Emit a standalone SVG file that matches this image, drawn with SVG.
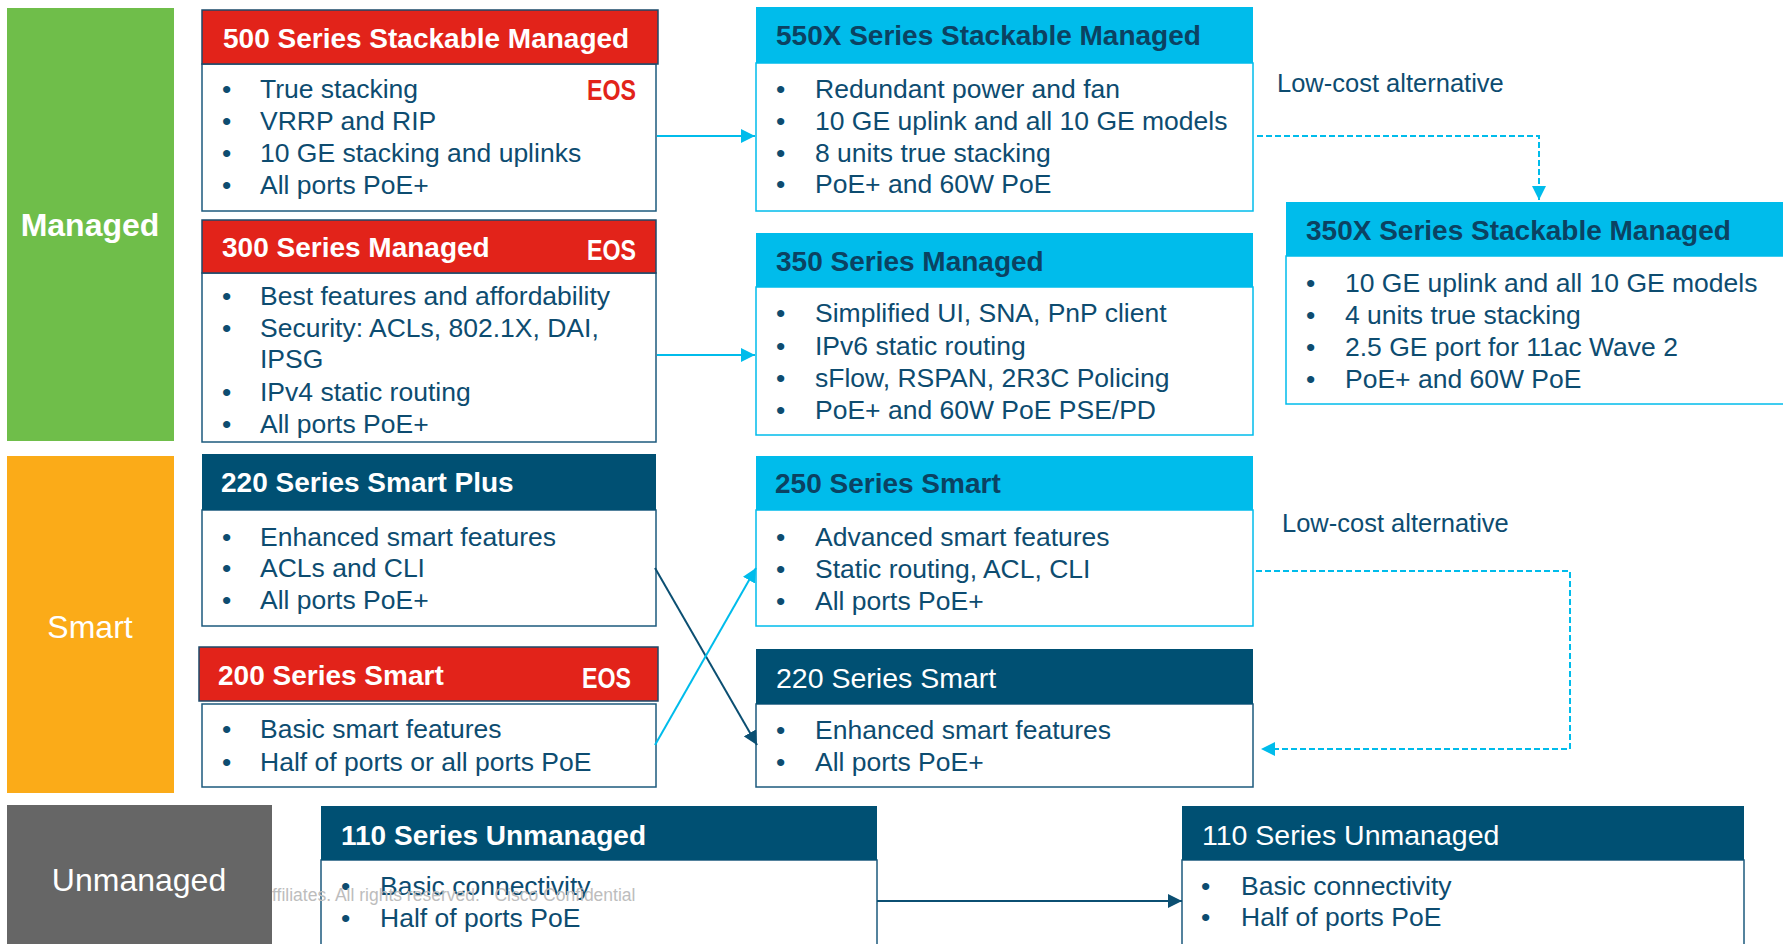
<svg xmlns="http://www.w3.org/2000/svg" width="1783" height="944" viewBox="0 0 1783 944">
<style>
text{font-family:"Liberation Sans",Arial,sans-serif}
.cat{font-size:32px;fill:#fff;text-anchor:middle}
.hb{font-size:28px;font-weight:bold}
.hr{font-size:28.5px}
.w{fill:#fff}
.dk{fill:#0b4262}
.it{font-size:26.5px;fill:#0d4c70}
.eos{font-size:29px;font-weight:bold}
.red{fill:#e2231a;stroke:#1c4a6a;stroke-width:1.5}
.cy{fill:#00bceb}
.nv{fill:#005073}
.bn{fill:#fff;stroke:#1c5a7d;stroke-width:1.5}
.bc{fill:#fff;stroke:#00bceb;stroke-width:1.5}
.lc{font-size:25.5px;fill:#0d4c70}
.cl{fill:none;stroke:#00bceb;stroke-width:2}
.cd{fill:none;stroke:#00bceb;stroke-width:2;stroke-dasharray:6 3}
.cn{fill:none;stroke:#0b4f72;stroke-width:2}
</style>
<defs>
<marker id="ac" markerUnits="userSpaceOnUse" markerWidth="14" markerHeight="14" refX="14" refY="7" orient="auto"><path d="M0,0 L14,7 L0,14 z" fill="#00bceb"/></marker>
<marker id="an" markerUnits="userSpaceOnUse" markerWidth="14" markerHeight="14" refX="14" refY="7" orient="auto"><path d="M0,0 L14,7 L0,14 z" fill="#0b4f72"/></marker>
</defs>

<g id="cat-managed"><rect x="7" y="8" width="167" height="433" fill="#6fbe4a"/><text class="cat" x="90" y="236" font-weight="bold">Managed</text></g>
<g id="cat-smart"><rect x="7" y="456" width="167" height="337" fill="#fbab18"/><text class="cat" x="90" y="638">Smart</text></g>
<g id="cat-unmanaged"><rect x="7" y="805" width="265" height="139" fill="#666666"/><text class="cat" x="139" y="891">Unmanaged</text></g>

<g id="n500">
<rect class="bn" x="202" y="64" width="454" height="147"/>
<rect class="red" x="202" y="10" width="456" height="54"/>
<text class="hb w" x="223" y="48">500 Series Stackable Managed</text>
<text class="eos" x="587" y="100" fill="#e2231a" textLength="49" lengthAdjust="spacingAndGlyphs">EOS</text>
<g class="it"><text x="222" y="98">•</text><text x="260" y="98">True stacking</text>
<text x="222" y="130">•</text><text x="260" y="130">VRRP and RIP</text>
<text x="222" y="162">•</text><text x="260" y="162">10 GE stacking and uplinks</text>
<text x="222" y="194">•</text><text x="260" y="194">All ports PoE+</text></g>
</g>

<g id="n300">
<rect class="bn" x="202" y="273" width="454" height="169"/>
<rect class="red" x="202" y="220" width="454" height="53"/>
<text class="hb w" x="222" y="257">300 Series Managed</text>
<text class="eos w" x="587" y="260" textLength="49" lengthAdjust="spacingAndGlyphs">EOS</text>
<g class="it"><text x="222" y="305">•</text><text x="260" y="305">Best features and affordability</text>
<text x="222" y="337">•</text><text x="260" y="337">Security: ACLs, 802.1X, DAI,</text>
<text x="260" y="368">IPSG</text>
<text x="222" y="401">•</text><text x="260" y="401">IPv4 static routing</text>
<text x="222" y="433">•</text><text x="260" y="433">All ports PoE+</text></g>
</g>

<g id="n550x">
<rect class="bc" x="756" y="63" width="497" height="148"/>
<rect class="cy" x="756" y="7" width="497" height="56"/>
<text class="hb dk" x="776" y="45">550X Series Stackable Managed</text>
<g class="it"><text x="776" y="98">•</text><text x="815" y="98">Redundant power and fan</text>
<text x="776" y="130">•</text><text x="815" y="130">10 GE uplink and all 10 GE models</text>
<text x="776" y="162">•</text><text x="815" y="162">8 units true stacking</text>
<text x="776" y="193">•</text><text x="815" y="193">PoE+ and 60W PoE</text></g>
</g>

<g id="n350">
<rect class="bc" x="756" y="287" width="497" height="148"/>
<rect class="cy" x="756" y="233" width="497" height="54"/>
<text class="hb dk" x="776" y="271">350 Series Managed</text>
<g class="it"><text x="776" y="322">•</text><text x="815" y="322">Simplified UI, SNA, PnP client</text>
<text x="776" y="355">•</text><text x="815" y="355">IPv6 static routing</text>
<text x="776" y="387">•</text><text x="815" y="387">sFlow, RSPAN, 2R3C Policing</text>
<text x="776" y="419">•</text><text x="815" y="419">PoE+ and 60W PoE PSE/PD</text></g>
</g>

<g id="n350x">
<rect class="bc" x="1286" y="256" width="510" height="148"/>
<rect class="cy" x="1286" y="202" width="510" height="54"/>
<text class="hb dk" x="1306" y="240">350X Series Stackable Managed</text>
<g class="it"><text x="1306" y="292">•</text><text x="1345" y="292">10 GE uplink and all 10 GE models</text>
<text x="1306" y="324">•</text><text x="1345" y="324">4 units true stacking</text>
<text x="1306" y="356">•</text><text x="1345" y="356">2.5 GE port for 11ac Wave 2</text>
<text x="1306" y="388">•</text><text x="1345" y="388">PoE+ and 60W PoE</text></g>
</g>

<g id="n220plus">
<rect class="bn" x="202" y="510" width="454" height="116"/>
<rect class="nv" x="202" y="454" width="454" height="56"/>
<text class="hb w" x="221" y="492">220 Series Smart Plus</text>
<g class="it"><text x="222" y="546">•</text><text x="260" y="546">Enhanced smart features</text>
<text x="222" y="577">•</text><text x="260" y="577">ACLs and CLI</text>
<text x="222" y="609">•</text><text x="260" y="609">All ports PoE+</text></g>
</g>

<g id="n200">
<rect class="bn" x="202" y="704" width="454" height="83"/>
<rect class="red" x="199" y="647" width="459" height="54"/>
<text class="hb w" x="218" y="685">200 Series Smart</text>
<text class="eos w" x="582" y="688" textLength="49" lengthAdjust="spacingAndGlyphs">EOS</text>
<g class="it"><text x="222" y="738">•</text><text x="260" y="738">Basic smart features</text>
<text x="222" y="771">•</text><text x="260" y="771">Half of ports or all ports PoE</text></g>
</g>

<g id="n250">
<rect class="bc" x="756" y="510" width="497" height="116"/>
<rect class="cy" x="756" y="456" width="497" height="54"/>
<text class="hb dk" x="775" y="493">250 Series Smart</text>
<g class="it"><text x="776" y="546">•</text><text x="815" y="546">Advanced smart features</text>
<text x="776" y="578">•</text><text x="815" y="578">Static routing, ACL, CLI</text>
<text x="776" y="610">•</text><text x="815" y="610">All ports PoE+</text></g>
</g>

<g id="n220smart">
<rect class="bn" x="756" y="704" width="497" height="83"/>
<rect class="nv" x="756" y="649" width="497" height="55"/>
<text class="hr w" x="776" y="688">220 Series Smart</text>
<g class="it"><text x="776" y="739">•</text><text x="815" y="739">Enhanced smart features</text>
<text x="776" y="771">•</text><text x="815" y="771">All ports PoE+</text></g>
</g>

<g id="n110a">
<rect class="bn" x="321" y="860" width="556" height="90"/>
<rect class="nv" x="321" y="806" width="556" height="54"/>
<text class="hb w" x="341" y="845">110 Series Unmanaged</text>
<g class="it"><text x="341" y="895">•</text><text x="380" y="895">Basic connectivity</text>
<text x="341" y="927">•</text><text x="380" y="927">Half of ports PoE</text></g>
</g>

<g id="n110b">
<rect class="bn" x="1182" y="860" width="562" height="90"/>
<rect class="nv" x="1182" y="806" width="562" height="54"/>
<text class="hr w" x="1202" y="845">110 Series Unmanaged</text>
<g class="it"><text x="1201" y="895">•</text><text x="1241" y="895">Basic connectivity</text>
<text x="1201" y="926">•</text><text x="1241" y="926">Half of ports PoE</text></g>
</g>

<text id="watermark" x="272" y="901" font-size="17.5" fill="#bdbdbd" style="white-space:pre">ffiliates. All rights reserved.   Cisco Confidential</text>

<g id="labels">
<text class="lc" x="1277" y="92">Low-cost alternative</text>
<text class="lc" x="1282" y="532">Low-cost alternative</text>
</g>

<g id="connectors">
<path class="cl" d="M657,136 L755,136" marker-end="url(#ac)"/>
<path class="cl" d="M657,355 L755,355" marker-end="url(#ac)"/>
<path class="cd" d="M1257,136 L1539,136 L1539,200" marker-end="url(#ac)"/>
<path class="cn" d="M655,568 L757,745" marker-end="url(#an)"/>
<path class="cl" d="M655,745 L756,568" marker-end="url(#ac)"/>
<path class="cd" d="M1256,571 L1570,571 L1570,749 L1261,749" marker-end="url(#ac)"/>
<path class="cn" d="M877,901 L1182,901" stroke-width="3" marker-end="url(#an)"/>
</g>
</svg>
